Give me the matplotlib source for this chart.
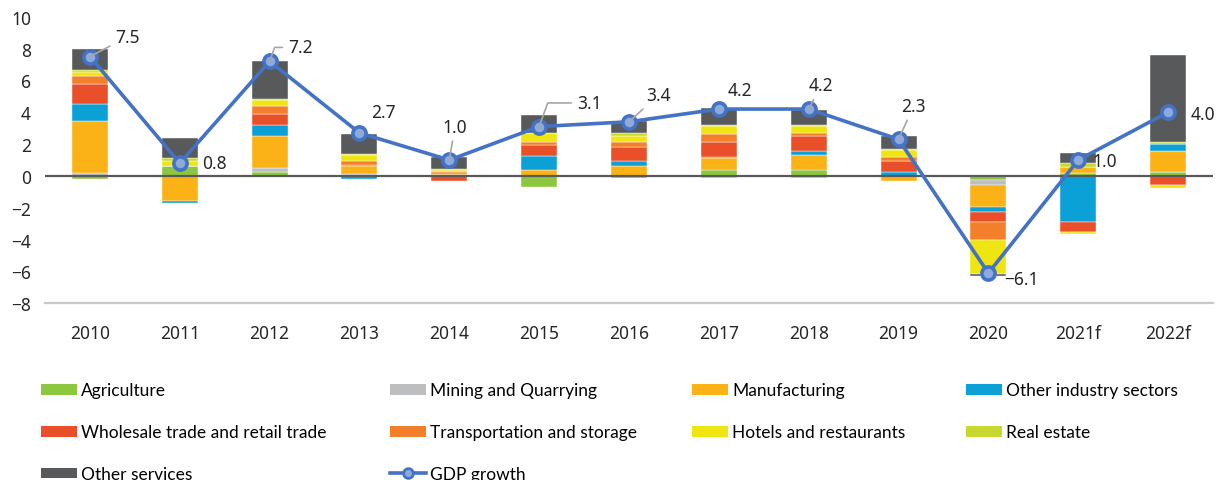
import matplotlib
matplotlib.use("Agg")
import matplotlib.pyplot as plt
import numpy as np
from matplotlib.patches import Patch
from matplotlib.lines import Line2D

years = ["2010", "2011", "2012", "2013", "2014", "2015", "2016", "2017", "2018", "2019", "2020", "2021f", "2022f"]

agriculture = [-0.17, 0.65, 0.25, 0.0, 0.0, -0.67, -0.15, 0.38, 0.38, 0.0, -0.27, 0.17, 0.25]
mining = [0.17, 0.0, 0.27, 0.15, 0.0, 0.0, 0.0, -0.15, -0.15, 0.0, -0.30, 0.0, 0.0]
manufacturing = [3.30, -1.57, 2.00, 0.45, 0.10, 0.38, 0.63, 0.75, 0.96, -0.30, -1.38, 0.42, 1.33]
other_industry = [1.07, -0.12, 0.70, -0.17, 0.0, 0.84, 0.33, 0.08, 0.23, 0.25, -0.33, -2.92, 0.45]
wholesale = [1.25, 0.0, 0.67, 0.10, -0.30, 0.71, 0.86, 0.92, 0.94, 0.69, -0.59, -0.59, -0.60]
transport = [0.50, 0.0, 0.50, 0.25, 0.17, 0.20, 0.31, 0.48, 0.20, 0.25, -1.13, 0.0, 0.0]
hotels = [0.25, 0.30, 0.35, 0.35, 0.08, 0.59, 0.38, 0.52, 0.42, 0.44, -2.18, -0.12, -0.15]
real_estate = [0.10, 0.15, 0.12, 0.05, 0.06, 0.0, 0.20, 0.08, 0.08, 0.08, 0.0, 0.25, 0.10]
other_services = [1.30, 1.30, 2.36, 1.30, 0.80, 1.09, 0.73, 1.07, 0.92, 0.80, -0.12, 0.63, 5.44]
gdp_growth = [7.5, 0.8, 7.2, 2.7, 1.0, 3.1, 3.4, 4.2, 4.2, 2.3, -6.1, 1.0, 4.0]

series_names = ["Agriculture", "Mining and Quarrying", "Manufacturing", "Other industry sectors",
                "Wholesale trade and retail trade", "Transportation and storage",
                "Hotels and restaurants", "Real estate", "Other services"]
series_values = [agriculture, mining, manufacturing, other_industry, wholesale, transport,
                 hotels, real_estate, other_services]
series_colors = ["#8DC63F", "#BCBEC0", "#FAB217", "#0BA1D7", "#E9502A", "#F37F2A",
                 "#EFE511", "#C7D92F", "#58595B"]

fig = plt.figure(figsize=(12.16, 4.81), dpi=100)
ax = fig.add_axes([45 / 1216, 1 - 304.3 / 481, (1213 - 45) / 1216, (304.3 - 17.7) / 481])

x = np.arange(len(years))
pos_bottom = np.zeros(len(years))
neg_bottom = np.zeros(len(years))
for name, vals, col in zip(series_names, series_values, series_colors):
    v = np.array(vals, dtype=float)
    bottoms = np.where(v >= 0, pos_bottom, neg_bottom)
    ax.bar(x, v, 0.4, bottom=bottoms, color=col, edgecolor="white", linewidth=0.3, zorder=2)
    pos_bottom = pos_bottom + np.where(v > 0, v, 0)
    neg_bottom = neg_bottom + np.where(v < 0, v, 0)

ax.axhline(0, color="#595959", lw=1.6, zorder=3)

line_col = "#4472C4"
ax.plot(x, gdp_growth, color=line_col, lw=2.6, marker="o", markersize=9.5,
        markerfacecolor="#8EAADB", markeredgecolor=line_col, markeredgewidth=2.6, zorder=5)

# data labels: (dx, dy) in points, leader style
label_specs = [
    (27, 14, "line"), (25, 0, None), (22, 10, "elbow"), (17, 15, None), (4, 24, "line"),
    (36, 17, "elbow"), (21, 19, "line"), (15, 14, None), (9, 17, "line"), (11, 24, "line"),
    (24, -4, None), (19, -1, None), (25, -1, None)
]
lbl_font = dict(family="Noto Sans", size=12.5, color="#262626")
for xi, yi, (dx, dy, style) in zip(x, gdp_growth, label_specs):
    txt = f"{yi:.1f}".replace("-", "\u2212")
    if style is None:
        ax.annotate(txt, (xi, yi), xytext=(dx, dy), textcoords="offset points",
                    ha="center", va="center", zorder=6, **lbl_font)
    else:
        cs = "arc3" if style == "line" else "angle,angleA=0,angleB=70,rad=0"
        ax.annotate(txt, (xi, yi), xytext=(dx, dy), textcoords="offset points",
                    ha="center", va="center", zorder=6,
                    arrowprops=dict(arrowstyle="-", color="#A6A6A6", lw=1.2,
                                    shrinkA=2, shrinkB=0, connectionstyle=cs),
                    **lbl_font)

ax.set_xlim(-0.5, len(years) - 0.5)
ax.set_ylim(-8, 10)
ax.set_yticks(np.arange(-8, 11, 2))
ax.set_yticklabels([str(v).replace("-", "\u2212") for v in range(-8, 11, 2)])
ax.set_xticks(x)
ax.set_xticklabels(years)
for s in ["top", "right", "left"]:
    ax.spines[s].set_visible(False)
ax.spines["bottom"].set_color("#C8C8C8")
ax.spines["bottom"].set_linewidth(1.6)
ax.tick_params(axis="both", length=0, labelsize=12.5, labelcolor="#262626")
ax.tick_params(axis="x", pad=15)
ax.tick_params(axis="y", pad=10)
for lab in ax.get_xticklabels() + ax.get_yticklabels():
    lab.set_family("Noto Sans")

# legend in 4 columns (row-major order as in the reference)
handles = [Patch(facecolor=c, edgecolor="none") for c in series_colors]
gdp_handle = Line2D([0], [0], color=line_col, lw=2.6, marker="o", markersize=7,
                    markerfacecolor="#8EAADB", markeredgecolor=line_col, markeredgewidth=2)
all_handles = handles + [gdp_handle]
all_labels = series_names + ["GDP growth"]
ncol = 4
col_x = [41, 390, 692, 966]
for c in range(ncol):
    hs = all_handles[c::ncol]
    ls = all_labels[c::ncol]
    fig.legend(hs, ls, loc="upper left", bbox_to_anchor=(col_x[c] / 1216, 1 - 383.5 / 481),
               frameon=False, borderpad=0, borderaxespad=0, handlelength=2.07,
               handleheight=0.575, handletextpad=0.23, labelspacing=1.49,
               prop=dict(family="Lato", size=12.5))

fig.savefig("out.png", dpi=100)
